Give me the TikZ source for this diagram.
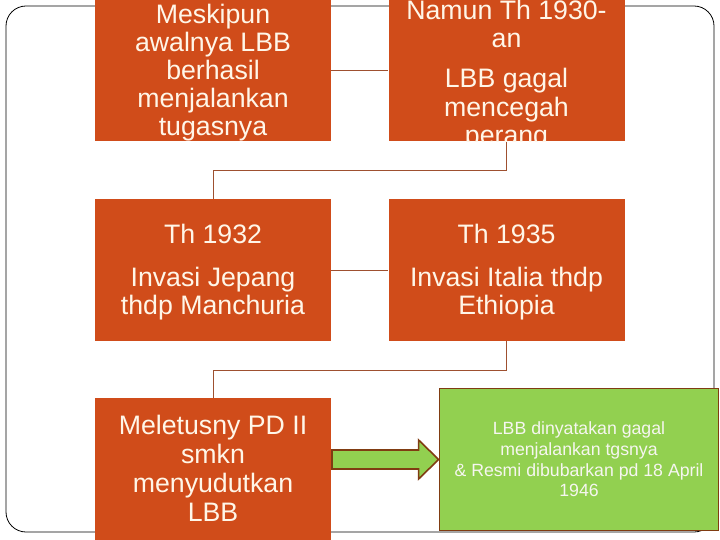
\documentclass[tikz,border=0pt]{standalone}
\usepackage{fontspec}
\setmainfont{Liberation Sans}
\usetikzlibrary{calc}
\definecolor{boxorange}{RGB}{208,76,26}
\definecolor{boxgreen}{RGB}{146,208,80}
\definecolor{edgebrown}{RGB}{128,60,18}
\definecolor{linkbrown}{RGB}{158,80,48}
\definecolor{txtcream}{RGB}{255,246,232}
\definecolor{txtwhite}{RGB}{246,246,240}
\newcommand\tightls{\lineskiplimit=-100pt\relax}
\newcommand\fsA{\fontsize{26.7}{27.8}\selectfont\tightls}
\newcommand\fsB{\fontsize{26.7}{28.5}\selectfont\tightls}
\newcommand\fsC{\fontsize{26.7}{28}\selectfont\tightls}
\newcommand\fsD{\fontsize{26.7}{29}\selectfont\tightls}
\newcommand\fsG{\fontsize{17.7}{20.7}\selectfont\tightls}
\begin{document}
\begin{tikzpicture}[x=1pt,y=-1pt,
  obox/.style={fill=boxorange, draw=none, minimum width=236pt, minimum height=142pt, inner sep=0pt},
  gbox/.style={fill=boxgreen, draw=edgebrown, line width=1.8pt, minimum width=279pt, minimum height=142pt, inner sep=0pt},
  otext/.style={text=txtcream, align=center, inner sep=0pt},
  gtext/.style={text=txtwhite, align=center, inner sep=0pt, font=\fsG},
  link/.style={draw=linkbrown, line width=0.9pt},
  frameline/.style={draw=black, line width=0.8pt, rounded corners=20pt},
  blockarrow/.style={fill=boxgreen, draw=edgebrown, line width=1.6pt, line join=miter}
]
\useasboundingbox (0,0) rectangle (720,540);
\fill[white] (0,0) rectangle (720,540);

% frame
\draw[frameline] (6,6) rectangle (714,532);

% boxes
\node[obox] (b1) at (213,70.5) {};
\node[obox] (b2) at (506.5,70.5) {};
\node[obox] (b3) at (213,270) {};
\node[obox] (b4) at (506.5,270) {};
\node[obox] (b5) at (213,469) {};

% connectors
\draw[link] (b1.east) -- (b2.west);
\draw[link] (b3.east) -- (b4.west);
\draw[link] (b2.south) -- ++(0,29) -| (b3.north);
\draw[link] (b4.south) -- ++(0,29) -| (b5.north);

% texts (clipped to their boxes)
\begin{scope}
  \clip (b1.north west) rectangle (b1.south east);
  \node[otext, font=\fsA] (t1) at (213,72.5)
    {Meskipun\\awalnya LBB\\berhasil\\menjalankan\\tugasnya};
\end{scope}
\begin{scope}
  \clip (b2.north west) rectangle (b2.south east);
  \node[otext, font=\fsB] (t2) at (506.5,75)
    {Namun Th 1930-\\an\\[11.5pt]LBB gagal\\mencegah\\perang};
\end{scope}
\begin{scope}
  \clip (b3.north west) rectangle (b3.south east);
  \node[otext, font=\fsC] (t3) at (213,272)
    {Th 1932\\[15pt]Invasi Jepang\\thdp Manchuria};
\end{scope}
\begin{scope}
  \clip (b4.north west) rectangle (b4.south east);
  \node[otext, font=\fsC] (t4) at (506.5,272)
    {Th 1935\\[15pt]Invasi Italia thdp\\Ethiopia};
\end{scope}
\begin{scope}
  \clip (b5.north west) rectangle (b5.south east);
  \node[otext, font=\fsD] (t5) at (213,468.5)
    {Meletusny PD II\\smkn\\menyudutkan\\LBB};
\end{scope}

% green box
\node[gbox] (g) at (579,459.5) {};
\coordinate (tail) at (b5.east |- g.west);
% block arrow
\draw[blockarrow]
  ($(tail)+(0.8,-9.5)$) -- ($(g.west)+(-20,-9.5)$) -- ($(g.west)+(-20,-19.5)$)
  -- (g.west) -- ($(g.west)+(-20,19.5)$) -- ($(g.west)+(-20,9.5)$)
  -- ($(tail)+(0.8,9.5)$) -- cycle;
\node[gtext] (gt) at (g.center)
  {LBB dinyatakan gagal\\menjalankan tgsnya\\\& Resmi dibubarkan pd 18 April\\1946};
\end{tikzpicture}
\end{document}
